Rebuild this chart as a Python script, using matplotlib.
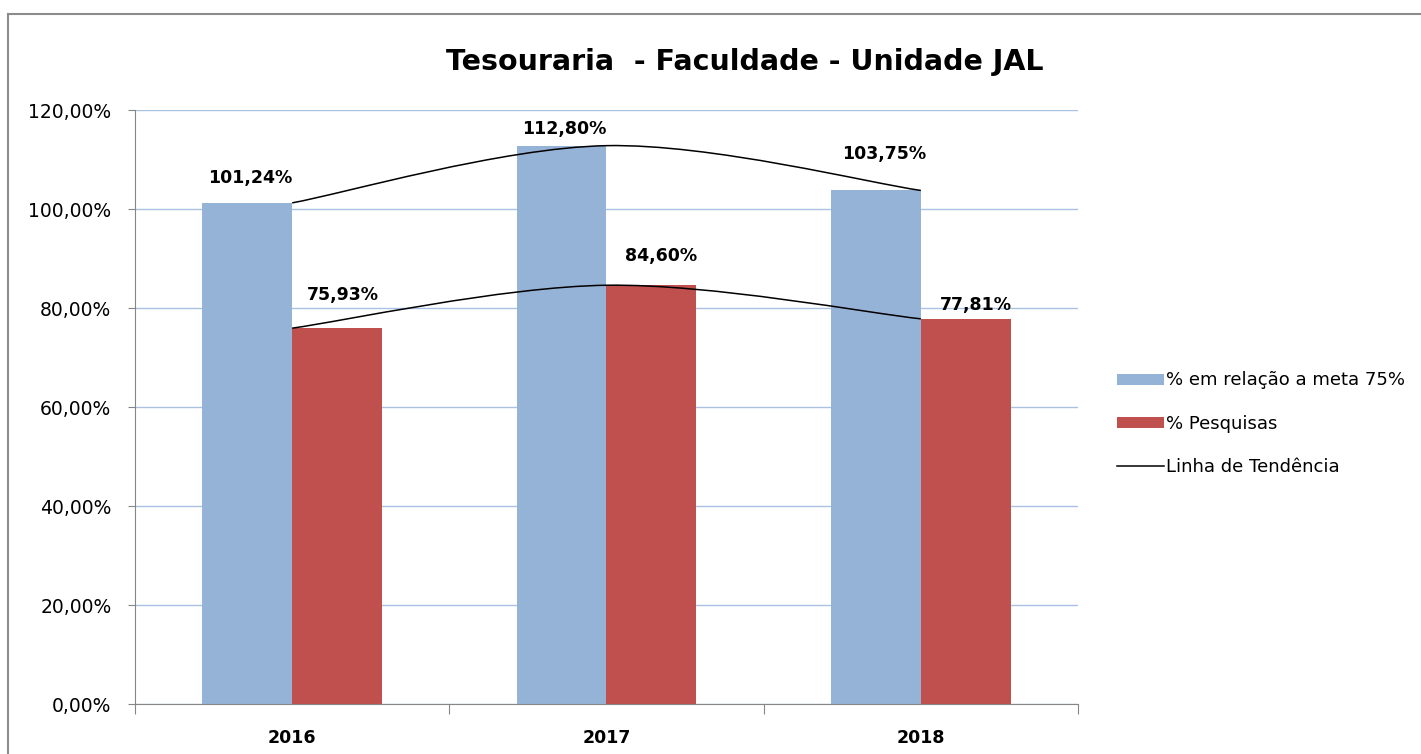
"""Tesouraria - Faculdade - Unidade JAL: bar chart with smoothed trend lines."""

import matplotlib

matplotlib.use("Agg")
import matplotlib.pyplot as plt
from matplotlib.lines import Line2D
from matplotlib.patches import PathPatch, Patch
from matplotlib.path import Path
from matplotlib.ticker import FixedLocator, FuncFormatter

years = ["2016", "2017", "2018"]
meta_pct = [101.24, 112.80, 103.75]
pesquisas_pct = [75.93, 84.60, 77.81]
y_ticks = [0, 20, 40, 60, 80, 100, 120]

# label placement (offset points from bar top), hand-placed in the original
meta_label_offsets = [(2, 14), (2, 8.5), (6, 23)]
pesquisas_label_offsets = [(4, 20), (7, 17.5), (7, 6.7)]

BLUE = "#95B3D7"
RED = "#C0504D"
GRID = "#A9C2E2"
AXIS = "#868686"


def fmt_pct(v: float) -> str:
    """Format a value the Brazilian way: 101,24%."""
    return f"{v:.2f}".replace(".", ",") + "%"


def smooth_path(xs, ys) -> Path:
    """Build a Bezier path through the points, like Excel's smoothed line."""
    pts = list(zip(xs, ys))
    verts = [pts[0]]
    codes = [Path.MOVETO]
    n = len(pts)
    for i in range(n - 1):
        p0 = pts[max(i - 1, 0)]
        p1 = pts[i]
        p2 = pts[i + 1]
        p3 = pts[min(i + 2, n - 1)]
        c1 = (p1[0] + (p2[0] - p0[0]) / 6, p1[1] + (p2[1] - p0[1]) / 6)
        c2 = (p2[0] - (p3[0] - p1[0]) / 6, p2[1] - (p3[1] - p1[1]) / 6)
        verts += [c1, c2, p2]
        codes += [Path.CURVE4] * 3
    return Path(verts, codes)


plt.rcParams["font.family"] = ["DejaVu Sans"]

fig = plt.figure(figsize=(14.21, 7.54), dpi=100)
ax = fig.add_axes([0.095, 0.0663, 0.6636, 0.7878])

x = list(range(len(years)))
width = 0.286
ax.bar([i - width / 2 for i in x], meta_pct, width=width, color=BLUE, zorder=2)
ax.bar([i + width / 2 for i in x], pesquisas_pct, width=width, color=RED, zorder=2)

for series in (meta_pct, pesquisas_pct):
    ax.add_patch(
        PathPatch(smooth_path(x, series), facecolor="none", edgecolor="black",
                  linewidth=1.1, zorder=3)
    )

for i in x:
    ax.annotate(fmt_pct(meta_pct[i]), (i - width / 2, meta_pct[i]),
                xytext=meta_label_offsets[i], textcoords="offset points",
                ha="center", va="baseline", fontsize=12.5, fontweight="bold",
                zorder=4)
    ax.annotate(fmt_pct(pesquisas_pct[i]), (i + width / 2, pesquisas_pct[i]),
                xytext=pesquisas_label_offsets[i], textcoords="offset points",
                ha="center", va="baseline", fontsize=12.5, fontweight="bold",
                zorder=4)

ax.set_xlim(-0.5, len(years) - 0.5)
ax.set_ylim(0, 120)
ax.set_yticks(y_ticks)
ax.yaxis.set_major_formatter(FuncFormatter(lambda v, _: fmt_pct(v)))
ax.grid(axis="y", color=GRID, linewidth=1, zorder=0)

# category boundaries carry the tick marks, centres carry the labels
ax.xaxis.set_major_locator(FixedLocator([i - 0.5 for i in range(len(years) + 1)]))
ax.xaxis.set_minor_locator(FixedLocator(x))
ax.set_xticklabels([])
ax.set_xticklabels(years, minor=True, fontsize=12.5, fontweight="bold")
ax.tick_params(axis="x", which="major", length=7, color=AXIS, direction="out")
ax.tick_params(axis="x", which="minor", length=0, pad=18)
ax.tick_params(axis="y", length=5, color=AXIS, labelsize=13.5, pad=12)

for side in ("top", "right"):
    ax.spines[side].set_visible(False)
for side in ("left", "bottom"):
    ax.spines[side].set_color(AXIS)

fig.text(0.5243, 0.918, "Tesouraria  - Faculdade - Unidade JAL", ha="center",
         va="center", fontsize=20.5, fontweight="bold")

handles = [
    Patch(facecolor=BLUE, label="% em relação a meta 75%"),
    Patch(facecolor=RED, label="% Pesquisas"),
    Line2D([], [], color="black", linewidth=1.1, label="Linha de Tendência"),
]
fig.legend(handles=handles, loc="center left", bbox_to_anchor=(0.7799, 0.438),
           frameon=False, fontsize=13, handlelength=2.6, handleheight=0.55,
           handletextpad=0.1, labelspacing=1.4, borderpad=0)

# outer chart frame (runs off the bottom and right of the picture)
fig.add_artist(Line2D([0.0056, 1.0], [0.9814, 0.9814], color="#8C8C8C", linewidth=1.5))
fig.add_artist(Line2D([0.0056, 0.0056], [0.0, 0.9814], color="#8C8C8C", linewidth=1.5))

fig.savefig("out.png", dpi=100)
